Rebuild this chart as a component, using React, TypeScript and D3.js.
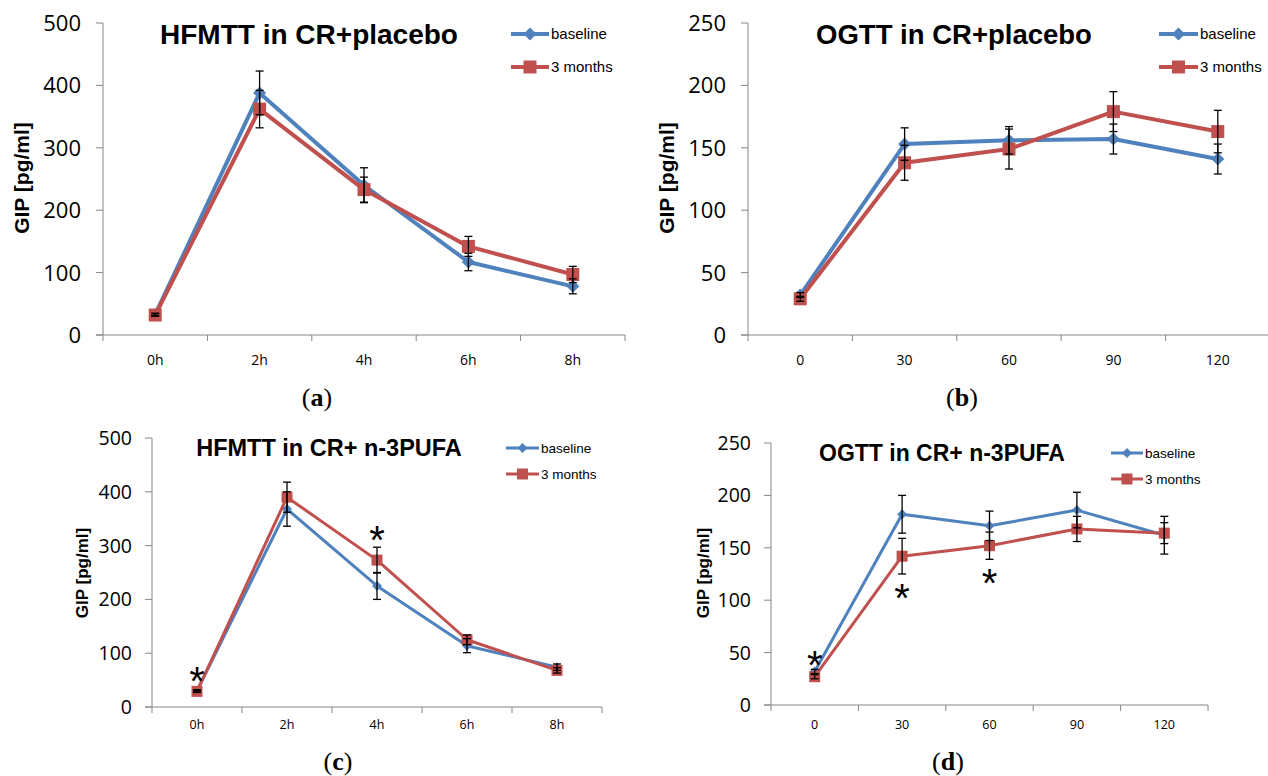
import React from 'react';
import * as d3 from 'd3';

// categories
const hourLabels = ['0h', '2h', '4h', '6h', '8h'];
const minuteLabels = ['0', '30', '60', '90', '120'];
const seriesNames = ['baseline', '3 months'];

// (a) HFMTT in CR+placebo
const aBaseline = [33, 388, 240, 117, 78];
const aBaselineErr = [2, 35, 28, 14, 12];
const aMonths = [32, 362, 233, 142, 97];
const aMonthsErr = [2, 30, 20, 16, 13];

// (b) OGTT in CR+placebo
const bBaseline = [32, 153, 156, 157, 141];
const bBaselineErr = [2, 13, 11, 12, 12];
const bMonths = [29, 138, 149, 179, 163];
const bMonthsErr = [2, 14, 16, 16, 17];

// (c) HFMTT in CR+ n-3PUFA
const cBaseline = [30, 368, 225, 114, 74];
const cBaselineErr = [2, 32, 25, 13, 6];
const cMonths = [29, 390, 273, 125, 68];
const cMonthsErr = [2, 28, 24, 9, 5];
const cStars = [{ cat: '0h', value: 63 }, { cat: '4h', value: 326 }];

// (d) OGTT in CR+ n-3PUFA
const dBaseline = [32, 182, 171, 186, 162];
const dBaselineErr = [2, 18, 14, 17, 18];
const dMonths = [27, 142, 152, 168, 164];
const dMonthsErr = [2, 17, 13, 12, 10];
const dStars = [{ cat: '0', value: 46 }, { cat: '30', value: 110 }, { cat: '60', value: 124 }];

const BLUE = '#4f81bd';
const RED = '#c0504d';
const AXIS = '#868686';
const FONT = "'Liberation Sans', Arial, sans-serif";
const TICKFONT = "'Open Sans', 'Liberation Sans', sans-serif";

const panels = [
  {
    letter: 'a', title: 'HFMTT in CR+placebo', cats: hourLabels,
    base: aBaseline, baseErr: aBaselineErr, months: aMonths, monthsErr: aMonthsErr, stars: [],
    yMax: 500, yStep: 100,
    x0: 103, x1: 625, yTop: 23, yBot: 335,
    titleX: 309, titleY: 44, titleSize: 28,
    legX0: 511, legX1: 549, legY: [34, 67], legSize: 15,
    yLabX: 22, yLabY: 178, yLabSize: 21,
    tickSize: 22, tickGap: 22, xTickSize: 14, xTickGap: 30,
    capX: 317, capY: 406, lw: 4, dia: 6.5, sq: 6.5,
  },
  {
    letter: 'b', title: 'OGTT in CR+placebo', cats: minuteLabels,
    base: bBaseline, baseErr: bBaselineErr, months: bMonths, monthsErr: bMonthsErr, stars: [],
    yMax: 250, yStep: 50,
    x0: 748, x1: 1270, yTop: 23, yBot: 335,
    titleX: 954, titleY: 44, titleSize: 27.5,
    legX0: 1159, legX1: 1198, legY: [34, 67], legSize: 15,
    yLabX: 667, yLabY: 178, yLabSize: 21,
    tickSize: 22, tickGap: 22, xTickSize: 14, xTickGap: 30,
    capX: 962, capY: 406, lw: 4, dia: 6.5, sq: 6.5,
  },
  {
    letter: 'c', title: 'HFMTT in CR+ n-3PUFA', cats: hourLabels,
    base: cBaseline, baseErr: cBaselineErr, months: cMonths, monthsErr: cMonthsErr, stars: cStars,
    yMax: 500, yStep: 100,
    x0: 152, x1: 602, yTop: 438, yBot: 707,
    titleX: 329, titleY: 456, titleSize: 23.5,
    legX0: 506, legX1: 539, legY: [448, 474], legSize: 13.5,
    yLabX: 82, yLabY: 573, yLabSize: 17,
    tickSize: 19.5, tickGap: 20, xTickSize: 12.5, xTickGap: 22,
    capX: 338, capY: 770, lw: 3, dia: 5, sq: 5.5,
  },
  {
    letter: 'd', title: 'OGTT in CR+ n-3PUFA', cats: minuteLabels,
    base: dBaseline, baseErr: dBaselineErr, months: dMonths, monthsErr: dMonthsErr, stars: dStars,
    yMax: 250, yStep: 50,
    x0: 771, x1: 1208, yTop: 443, yBot: 705,
    titleX: 942, titleY: 461, titleSize: 23,
    legX0: 1111, legX1: 1143, legY: [453, 479], legSize: 13.5,
    yLabX: 703, yLabY: 573, yLabSize: 17,
    tickSize: 19.5, tickGap: 20, xTickSize: 12.5, xTickGap: 24,
    capX: 948, capY: 770, lw: 3, dia: 5, sq: 5.5,
  },
];

const diamond = (x: number, y: number, r: number) =>
  `M${x},${y - r}L${x + r},${y}L${x},${y + r}L${x - r},${y}Z`;
const square = (x: number, y: number, r: number) =>
  `M${x - r},${y - r}h${2 * r}v${2 * r}h${-2 * r}Z`;

const Panel = ({ p }: { p: any }) => {
  const x = d3.scaleBand().domain(p.cats).range([p.x0, p.x1]);
  const y = d3.scaleLinear().domain([0, p.yMax]).range([p.yBot, p.yTop]);
  const cx = (c: string) => (x(c) as number) + x.bandwidth() / 2;
  const line = d3.line<number>().x((d, i) => cx(p.cats[i])).y(d => y(d));
  const yTicks = d3.range(0, p.yMax + 1, p.yStep);
  const xBounds = p.cats.map((c: string) => x(c) as number).concat([p.x1]);

  const errBars = (vals: number[], errs: number[]) =>
    vals.map((v, i) => {
      const px = cx(p.cats[i]);
      const hi = y(v + errs[i]);
      const lo = y(v - errs[i]);
      return (
        <g key={i} stroke="#000" strokeWidth={1.3}>
          <line x1={px} x2={px} y1={hi} y2={lo} />
          <line x1={px - 4} x2={px + 4} y1={hi} y2={hi} />
          <line x1={px - 4} x2={px + 4} y1={lo} y2={lo} />
        </g>
      );
    });

  return (
    <g>
      {/* axes */}
      <line x1={p.x0} x2={p.x0} y1={p.yTop} y2={p.yBot} stroke={AXIS} />
      <line x1={p.x0 - 7} x2={p.x1} y1={p.yBot} y2={p.yBot} stroke={AXIS} />
      {yTicks.map(t => (
        <g key={t}>
          <line x1={p.x0 - 7} x2={p.x0} y1={y(t)} y2={y(t)} stroke={AXIS} />
          <text x={p.x0 - p.tickGap} y={y(t)} dy="0.36em" textAnchor="end"
            fontSize={p.tickSize} fill="#000" fontFamily={TICKFONT}>{t}</text>
        </g>
      ))}
      {xBounds.map((b: number, i: number) => (
        <line key={i} x1={b} x2={b} y1={p.yBot} y2={p.yBot + 6} stroke={AXIS} />
      ))}
      {p.cats.map((c: string) => (
        <text key={c} x={cx(c)} y={p.yBot + p.xTickGap} textAnchor="middle"
          fontSize={p.xTickSize} fontFamily={TICKFONT}>{c}</text>
      ))}

      {/* series */}
      <path d={line(p.base) as string} fill="none" stroke={BLUE} strokeWidth={p.lw} strokeLinejoin="round" />
      {p.base.map((v: number, i: number) => (
        <path key={i} d={diamond(cx(p.cats[i]), y(v), p.dia)} fill={BLUE} />
      ))}
      <path d={line(p.months) as string} fill="none" stroke={RED} strokeWidth={p.lw} strokeLinejoin="round" />
      {p.months.map((v: number, i: number) => (
        <path key={i} d={square(cx(p.cats[i]), y(v), p.sq)} fill={RED} />
      ))}
      {errBars(p.base, p.baseErr)}
      {errBars(p.months, p.monthsErr)}

      {/* significance */}
      {p.stars.map((s: any, i: number) => (
        <text key={i} x={cx(s.cat)} y={y(s.value) + 22} textAnchor="middle"
          fontSize={40} fontFamily={FONT}>*</text>
      ))}

      {/* title */}
      <text x={p.titleX} y={p.titleY} textAnchor="middle" fontWeight="bold"
        fontSize={p.titleSize} fontFamily={FONT}>{p.title}</text>

      {/* legend */}
      {seriesNames.map((n, i) => {
        const ly = p.legY[i];
        const mx = (p.legX0 + p.legX1) / 2;
        const col = i === 0 ? BLUE : RED;
        return (
          <g key={n}>
            <line x1={p.legX0} x2={p.legX1} y1={ly} y2={ly} stroke={col} strokeWidth={p.lw} />
            <path d={i === 0 ? diamond(mx, ly, p.dia) : square(mx, ly, p.sq)} fill={col} />
            <text x={p.legX1 + 2} y={ly} dy="0.35em" fontSize={p.legSize} fontFamily={FONT}>{n}</text>
          </g>
        );
      })}

      {/* y label */}
      <text transform={`translate(${p.yLabX},${p.yLabY}) rotate(-90)`} textAnchor="middle"
        dy="0.35em" fontWeight="bold" fontSize={p.yLabSize} fontFamily={FONT}>GIP [pg/ml]</text>

      {/* caption */}
      <text x={p.capX} y={p.capY} textAnchor="middle" fontSize={26}
        fontFamily="'Liberation Serif', 'Times New Roman', serif">
        (<tspan fontWeight="bold">{p.letter}</tspan>)
      </text>
    </g>
  );
};

export default function App() {
  return (
    <svg width={1268} height={776} viewBox="0 0 1268 776"
      style={{ position: 'absolute', left: 0, top: 0, background: '#fff' }}>
      <rect width={1268} height={776} fill="#fff" />
      {panels.map(p => <Panel key={p.letter} p={p} />)}
    </svg>
  );
}
